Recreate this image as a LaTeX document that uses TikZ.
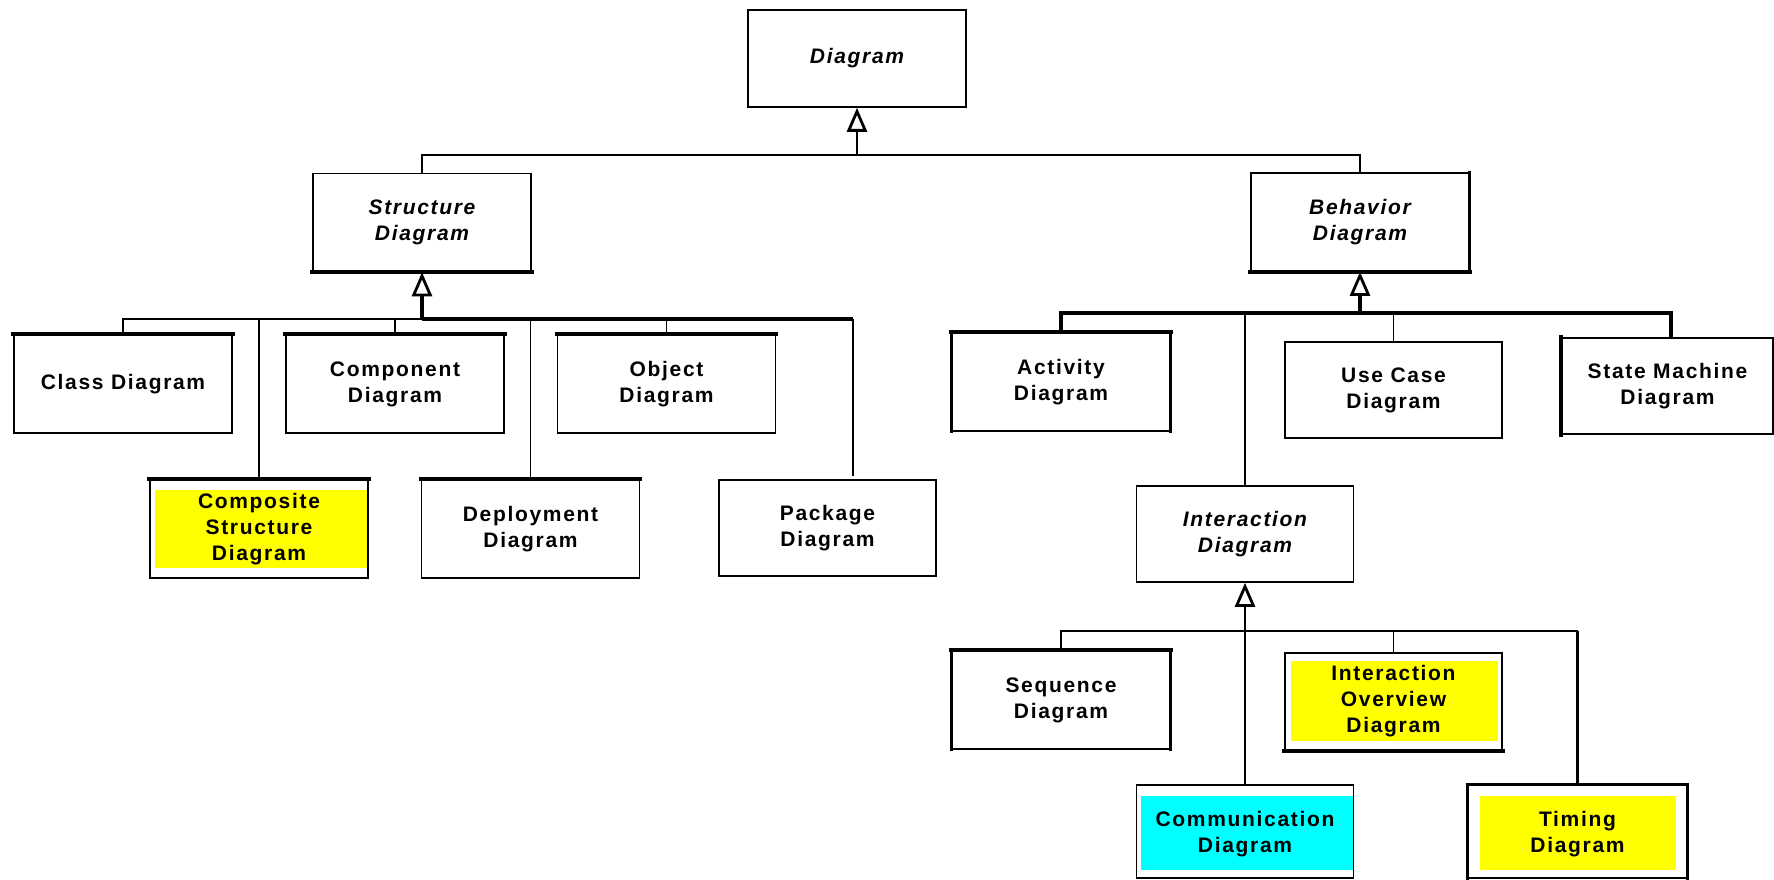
\documentclass[tikz,border=0pt]{standalone}
\usepackage{fontspec}
\newfontfamily\lblfont{Liberation Sans}[LetterSpace=8]
\usetikzlibrary{arrows.meta,backgrounds}
\definecolor{hiyellow}{RGB}{255,255,0}
\definecolor{hicyan}{RGB}{0,255,255}

\begin{document}
\begin{tikzpicture}[x=1pt,y=-1pt,
  box/.style={draw, line width=1.6pt, rectangle, inner sep=0pt,
    minimum width=218pt, minimum height=98pt, align=center,
    font=\lblfont\bfseries\fontsize{21}{26}\selectfont},
  abstract/.style={box, font=\lblfont\bfseries\itshape\fontsize{21}{26}\selectfont},
  lowtext/.style={text depth=-5.6pt},
  link/.style={line width=1.8pt},
  heavy/.style={line width=3.5pt},
  edgeT/.style={line width=4pt, line cap=rect},
  edgeM/.style={line width=3pt, line cap=rect},
  gen/.style={-{Triangle[open,length=24pt,width=20pt,line width=2.8pt]}},
]
\useasboundingbox (0,0) rectangle (1774,880);

% abstract diagram kinds
\node[abstract, minimum height=97pt] (diagram) at (857,58.5) {Diagram};
\node[abstract] (structure) at (422,222.5) {Structure\\Diagram};
\node[abstract] (behavior) at (1360,222) {Behavior\\Diagram};
\node[abstract, minimum width=217pt, minimum height=96pt] (interaction) at (1245,534) {Interaction\\Diagram};

% structure diagrams
\node[box] (class) at (123,384) {Class Diagram};
\node[box] (component) at (395,384) {Component\\Diagram};
\node[box] (object) at (666.5,384) {Object\\Diagram};
\node[box] (composite) at (259,529) {Composite\\Structure\\Diagram};
\node[box] (deployment) at (530.5,529) {Deployment\\Diagram};
\node[box, minimum width=217pt, minimum height=96pt] (package) at (827.5,528) {Package\\Diagram};

% behavior diagrams
\node[box] (activity) at (1061,382) {Activity\\Diagram};
\node[box, minimum width=217pt, minimum height=96pt] (usecase) at (1393.5,390) {Use Case\\Diagram};
\node[box, minimum width=211pt, minimum height=96pt] (statemachine) at (1667.5,386) {State Machine\\Diagram};

% interaction diagrams
\node[box] (sequence) at (1061,700) {Sequence\\Diagram};
\node[box, minimum width=217pt, minimum height=97pt] (overview) at (1393.5,701.5) {Interaction\\Overview\\Diagram};
\node[box, lowtext, minimum width=217pt, minimum height=93pt] (communication) at (1245,831.5) {Communication\\Diagram};
\node[box, lowtext, minimum width=219pt, minimum height=93pt] (timing) at (1577.5,831.5) {Timing\\Diagram};

% highlighted boxes
\begin{scope}[on background layer]
  \fill[white] (0,0) rectangle (1774,880);
  \fill[hiyellow] ([xshift=6pt,yshift=-11pt]composite.north west) rectangle ([xshift=-2pt,yshift=11pt]composite.south east);
  \fill[hiyellow] ([xshift=6.5pt,yshift=-9pt]overview.north west) rectangle ([xshift=-5pt,yshift=10pt]overview.south east);
  \fill[hicyan] ([xshift=5.5pt,yshift=-12pt]communication.north west) rectangle ([xshift=0pt,yshift=9pt]communication.south east);
  \fill[hiyellow] ([xshift=13pt,yshift=-12pt]timing.north west) rectangle ([xshift=-12pt,yshift=9pt]timing.south east);
\end{scope}

% heavier box edges
\draw[edgeT] (structure.south west) -- (structure.south east);
\draw[edgeT] (behavior.south west) -- (behavior.south east);
\draw[edgeM] (behavior.north east) -- (behavior.south east);
\foreach \n in {class,component,object,composite,deployment,activity,sequence}
  \draw[edgeT] (\n.north west) -- (\n.north east);
\foreach \n in {activity,sequence,timing}
  \draw[edgeM] (\n.north west) -- (\n.south west) (\n.north east) -- (\n.south east);
\draw[edgeM] (timing.north west) -- (timing.north east);
\draw[edgeT] (statemachine.north west) -- (statemachine.south west);
\draw[edgeT] (overview.south west) -- (overview.south east);

% top level generalization
\coordinate (j0) at (857,155);
\draw[link] (structure.north) |- (j0) -| (behavior.north);
\draw[link,gen] (j0) -- (diagram.south);

% structure generalization
\coordinate (j1) at (422,319);
\coordinate (pk) at ([xshift=25.5pt,yshift=3pt]package.north);
\draw[heavy,gen] (j1) -- (structure.south);
\draw[link] (class.north) |- (j1);
\draw[heavy] (j1) -- (j1 -| pk);
\draw[link] (j1 -| pk) -- (pk);
\foreach \n in {composite,component,deployment,object}
  \draw[link] (\n.north) -- (\n.north |- j1);

% behavior generalization
\coordinate (j2) at (1360,313);
\coordinate (sm) at ([xshift=3.5pt]statemachine.north);
\draw[heavy,gen] (j2) -- (behavior.south);
\draw[heavy] (activity.north) |- (j2) -| (sm);
\draw[link] (interaction.north) -- (interaction.north |- j2);
\draw[link] (usecase.north) -- (usecase.north |- j2);

% interaction generalization
\coordinate (j3) at (1245,631);
\draw[link,gen] (communication.north) -- (interaction.south);
\draw[link] (sequence.north) |- (timing.north |- j3);
\draw[link] (overview.north) -- (overview.north |- j3);
\draw[heavy] (timing.north) -- (timing.north |- j3);
\end{tikzpicture}
\end{document}
